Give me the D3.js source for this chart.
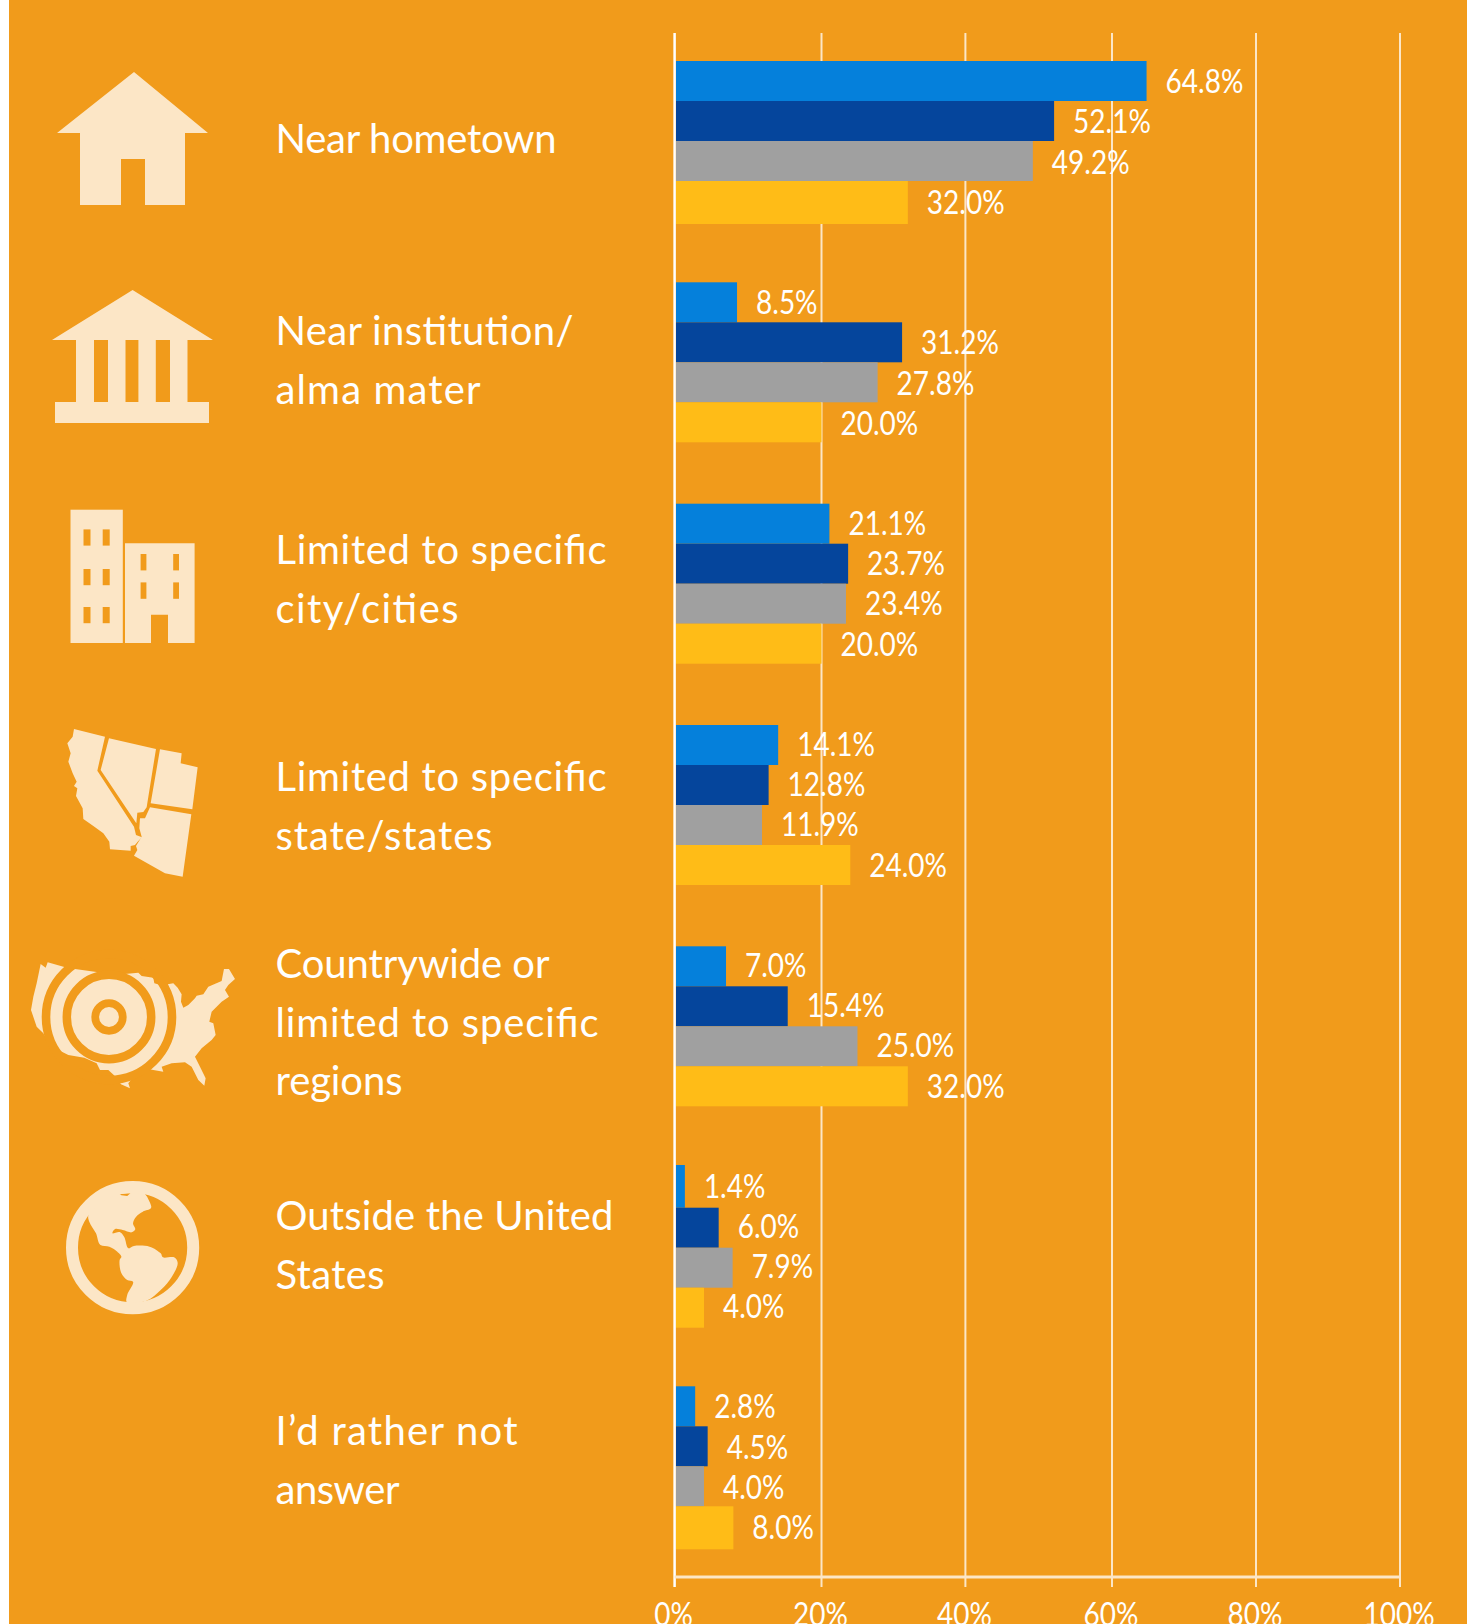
<!DOCTYPE html>
<html>
<head>
<meta charset="utf-8">
<script src="https://d3js.org/d3.v7.min.js"></script>
<style>
  html, body { margin: 0; padding: 0; background: #fff; }
  svg { display: block; }
  .cat { font-family: Lato, sans-serif; font-size: 40px; fill: #fff; }
  .val, .tick text { font-family: Lato, sans-serif; font-size: 32px; fill: #fff; }
</style>
</head>
<body>
<svg id="chart" width="1467" height="1624"></svg>
<script>
let categories = [
  ['Near hometown'],
  ['Near institution/', 'alma mater'],
  ['Limited to specific', 'city/cities'],
  ['Limited to specific', 'state/states'],
  ['Countrywide or', 'limited to specific', 'regions'],
  ['Outside the United', 'States'],
  ['I\u2019d rather not', 'answer']
];
let series1 = [64.8, 8.5, 21.1, 14.1, 7.0, 1.4, 2.8];
let series2 = [52.1, 31.2, 23.7, 12.8, 15.4, 6.0, 4.5];
let series3 = [49.2, 27.8, 23.4, 11.9, 25.0, 7.9, 4.0];
let series4 = [32.0, 20.0, 20.0, 24.0, 32.0, 4.0, 8.0];
let allSeries = [series1, series2, series3, series4];
let seriesColors = ['#0580db', '#05459c', '#a0a0a0', '#ffbc17'];
let xTicks = [0, 20, 40, 60, 80, 100];

let orange = '#f19b1b';
let cream = '#fce6c6';

let svg = d3.select('#chart');

svg.append('rect')
  .attr('x', 9).attr('y', 0)
  .attr('width', 1458).attr('height', 1624)
  .attr('fill', orange);

// scales, the printed gridlines are not quite evenly spaced
let x = d3.scaleLinear().domain(xTicks).range([674.6, 821.5, 965.4, 1112, 1256, 1400]);
let groupTop = d3.scaleLinear()
  .domain([0, 1, 2, 3, 4, 5, 6])
  .range([61, 282.3, 503.7, 725, 946.3, 1167.7, 1386.3]);
let labelY = d3.scaleLinear().domain([0, 6]).range([93, 1418.4]);
let barStep = 40;
let barX = 676;

// axis and grid
let axis = d3.axisBottom(x)
  .tickValues(xTicks)
  .tickFormat(d => d + '%')
  .tickSize(-1554)
  .tickSizeOuter(0)
  .offset(0);

let gAxis = svg.append('g')
  .attr('transform', 'translate(0,1587)')
  .call(axis);
gAxis.select('.domain').remove();
gAxis.selectAll('.tick line')
  .attr('stroke', d => d == 0 ? '#fff' : cream)
  .attr('stroke-width', d => d == 0 ? 2.5 : 2);
gAxis.selectAll('.tick text')
  .attr('x', -1)
  .attr('y', 39)
  .attr('dy', 0);

svg.append('line')
  .attr('x1', x(0)).attr('x2', x(100))
  .attr('y1', 1577).attr('y2', 1577)
  .attr('stroke', cream)
  .attr('stroke-width', 3);

// bars
allSeries.forEach(function(values, s) {
  svg.append('g')
    .selectAll('rect')
    .data(values)
    .enter()
    .append('rect')
    .attr('x', barX)
    .attr('y', (d, i) => groupTop(i) + s * barStep - ((i == 5 && s == 0) ? 2.7 : 0))
    .attr('width', d => x(d) - barX)
    .attr('height', (d, i) => {
      if (s == 3 && (i == 0 || i == 6)) return 43;
      if (i == 5 && s == 0) return 42.7;
      return barStep;
    })
    .attr('fill', seriesColors[s]);
});

// value labels
allSeries.forEach(function(values, s) {
  svg.append('g')
    .selectAll('text')
    .data(values)
    .enter()
    .append('text')
    .attr('class', 'val')
    .attr('x', d => x(d) + 19)
    .attr('y', (d, i) => labelY(i) + s * 40.3)
    .text(d => d.toFixed(1) + '%');
});

// squeeze the numbers a bit, the original face is narrow
svg.selectAll('.val, .tick text').each(function() {
  let w = this.getComputedTextLength();
  d3.select(this)
    .attr('textLength', w * 0.875)
    .attr('lengthAdjust', 'spacingAndGlyphs');
});

// category labels, each line fitted to the width it has in the picture
let catBaselines = [153, 345, 564, 791, 978, 1230, 1445];
let catWidths = [[281], [298, 205], [331, 183], [331, 217], [274, 323, 127], [338, 109], [242, 124]];
let lineGap = 58.5;
categories.forEach(function(lines, i) {
  svg.append('g')
    .selectAll('text')
    .data(lines)
    .enter()
    .append('text')
    .attr('class', 'cat')
    .attr('x', 275.5)
    .attr('y', (d, j) => catBaselines[i] + j * lineGap)
    .attr('textLength', (d, j) => catWidths[i][j])
    .text(d => d);
});

// icons
let poly = d3.line();
let smooth = d3.line().curve(d3.curveCatmullRomClosed.alpha(0.5));
let icons = svg.append('g').attr('fill', cream);

// house
icons.append('path').attr('d',
  'M134 72L208 133H185V205H145V159H121V205H80V133H57Z');

// institution
icons.append('path').attr('d',
  'M132.6 290L213 340H187.5V402H209V423H55V402H76V340H52Z');
[[94, 108], [125.5, 138.4], [155.8, 170]].forEach(function(c) {
  icons.append('rect')
    .attr('x', c[0]).attr('y', 340)
    .attr('width', c[1] - c[0]).attr('height', 62)
    .attr('fill', orange);
});

// buildings
icons.append('rect').attr('x', 70.5).attr('y', 509.7).attr('width', 52.3).attr('height', 133.3);
icons.append('path').attr('d', 'M125 543.3H194.6V643H168V614.8H151V643H125Z');
[83.5, 102.7].forEach(function(wx) {
  [529.4, 569, 607].forEach(function(wy) {
    icons.append('rect')
      .attr('x', wx).attr('y', wy)
      .attr('width', 7).attr('height', 16.2)
      .attr('fill', orange);
  });
});
[140.6, 173.2].forEach(function(wx) {
  [554, 582.4].forEach(function(wy) {
    icons.append('rect')
      .attr('x', wx).attr('y', wy)
      .attr('width', 5.8).attr('height', 16.4)
      .attr('fill', orange);
  });
});

// western states, points read in zoom pixels
let statesG = icons.append('g').attr('transform', 'translate(60,720) scale(0.3333)');
[
  [[42,27],[135,50],[112,152],[222,320],[228,345],[246,352],[233,365],[225,375],[212,378],[212,392],[150,388],[148,365],[130,340],[100,318],[70,297],[68,265],[48,228],[52,205],[42,198],[50,185],[38,160],[25,125],[32,100],[22,70],[38,50]],
  [[147,55],[288,87],[260,262],[250,276],[232,278],[229,310],[122,150]],
  [[300,88],[365,100],[362,130],[413,142],[397,268],[272,250]],
  [[270,262],[394,283],[368,470],[315,460],[222,407],[232,390],[228,378],[245,350],[238,325],[240,295],[255,295]]
].forEach(function(p) {
  statesG.append('path').attr('d', poly(p) + 'Z');
});

// usa with target rings
let usaG = icons.append('g').attr('transform', 'translate(25,955) scale(0.3333)');
usaG.append('path').attr('d', poly([
  [47,27],[62,38],[68,22],[118,36],[150,42],[220,52],[300,57],[340,53],[350,63],[385,68],[388,85],[415,92],[430,100],[428,88],[445,85],[458,98],[470,118],[468,140],[475,158],[490,150],[510,130],[515,122],[535,118],[550,95],[590,78],[597,42],[612,42],[630,72],[610,90],[600,105],[612,125],[590,140],[578,152],[560,170],[553,200],[565,205],[572,240],[560,255],[530,280],[510,305],[525,335],[542,370],[538,392],[520,375],[500,335],[480,322],[440,325],[410,335],[415,350],[385,345],[360,340],[335,355],[310,385],[315,400],[288,388],[272,365],[250,345],[225,345],[215,325],[178,308],[130,300],[100,285],[70,262],[55,235],[35,215],[18,165],[25,125],[35,85]
]) + 'Z');
[[63, 8.6], [42.2, 8.5], [13.8, 7.7]].forEach(function(r) {
  svg.append('circle')
    .attr('cx', 109).attr('cy', 1017)
    .attr('r', r[0])
    .attr('fill', 'none')
    .attr('stroke', orange)
    .attr('stroke-width', r[1]);
});

// globe
svg.append('circle')
  .attr('cx', 132.6).attr('cy', 1247.7)
  .attr('r', 60.6)
  .attr('fill', 'none')
  .attr('stroke', cream)
  .attr('stroke-width', 12);
let globeG = icons.append('g').attr('transform', 'translate(0,1140) scale(0.4464,0.3333)');
globeG.append('path').attr('d', smooth([
  [320,158],[335,185],[338,205],[320,215],[305,230],[298,250],[303,268],[295,277],[275,270],[258,267],[252,280],[268,276],[278,290],[288,325],[300,318],[335,320],[360,340],[365,352],[390,352],[398,368],[385,410],[360,450],[328,482],[285,488],[285,465],[298,425],[285,420],[272,400],[268,360],[272,350],[258,330],[245,320],[225,315],[215,280],[200,245],[198,225],[220,180],[265,155]
]));
globeG.append('path').attr('d', poly([[268,162],[292,160],[285,168],[272,166]]) + 'Z').attr('fill', orange);
</script>
</body>
</html>
